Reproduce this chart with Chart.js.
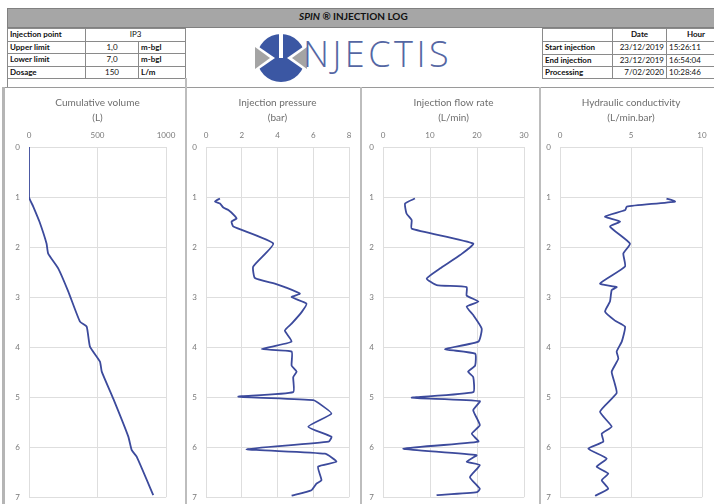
<!DOCTYPE html>
<html>
<head>
<meta charset="utf-8">
<script src="https://cdn.jsdelivr.net/npm/chart.js@4/dist/chart.umd.min.js"></script>
<style>
  html, body { margin: 0; padding: 0; background: #fff; }
  body { width: 714px; height: 504px; position: relative; overflow: hidden; font-family: Lato, "Liberation Sans", sans-serif; }
  .abs { position: absolute; box-sizing: border-box; }
  .cell { position: absolute; box-sizing: border-box; border: 1px solid #8a8a8a; font-size: 8px; line-height: 11px; padding: 0 2px; white-space: nowrap; overflow: hidden; color: #111; }
  .b { font-weight: bold; }
  .c { text-align: center; }
  .r { text-align: right; }
  .vline { position: absolute; background: #bdbdbd; width: 2px; }
  .panel { position: absolute; top: 90px; height: 421px; }
  canvas { display: block; }
</style>
</head>
<body>
<!-- header bar -->
<div class="abs" style="left:7px;top:8px;width:720px;height:20px;background:#a6a6a6;border:1px solid #808080;"></div>
<div class="abs" style="left:299px;top:10px;font-size:10px;font-weight:bold;color:#111;white-space:nowrap;"><i>SPIN</i> ® INJECTION LOG</div>

<!-- left info table -->
<div class="cell b" style="left:7px;top:28px;width:79px;height:14px;">Injection point</div>
<div class="cell c" style="left:85px;top:28px;width:101px;height:14px;">IP3</div>
<div class="cell b" style="left:7px;top:41px;width:79px;height:13px;">Upper limit</div>
<div class="cell c" style="left:85px;top:41px;width:54px;height:13px;">1,0</div>
<div class="cell b" style="left:138px;top:41px;width:48px;height:13px;">m-bgl</div>
<div class="cell b" style="left:7px;top:53px;width:79px;height:14px;">Lower limit</div>
<div class="cell c" style="left:85px;top:53px;width:54px;height:14px;">7,0</div>
<div class="cell b" style="left:138px;top:53px;width:48px;height:14px;">m-bgl</div>
<div class="cell b" style="left:7px;top:66px;width:79px;height:13px;">Dosage</div>
<div class="cell c" style="left:85px;top:66px;width:54px;height:13px;">150</div>
<div class="cell b" style="left:138px;top:66px;width:48px;height:13px;">L/m</div>
<div class="cell" style="left:7px;top:78px;width:179px;height:10px;border-top:none;"></div>

<!-- logo -->
<svg class="abs" style="left:252px;top:32px;" width="58" height="52" viewBox="0 0 58 52">
  <circle cx="29" cy="26" r="24" fill="#3b57a3"/>
  <polygon points="0,10 23,26 0,42" fill="#fff"/>
  <polygon points="3,15 18,26 3,37" fill="#a4a4a4"/>
  <polygon points="58,10 35,26 58,42" fill="#fff"/>
  <polygon points="55,15 40,26 55,37" fill="#a4a4a4"/>
  <rect x="27" y="0" width="4" height="26" fill="#fff"/>
</svg>
<div class="abs" style="left:303px;top:32px;font-family:'Open Sans','Noto Sans',sans-serif;font-weight:300;font-size:36px;line-height:44px;letter-spacing:3.5px;color:#5466a3;white-space:nowrap;">NJECTIS</div>

<!-- right info table -->
<div class="cell" style="left:542px;top:28px;width:71px;height:14px;"></div>
<div class="cell b c" style="left:612px;top:28px;width:55px;height:14px;">Date</div>
<div class="cell b c" style="left:666px;top:28px;width:60px;height:14px;">Hour</div>
<div class="cell b" style="left:542px;top:41px;width:71px;height:14px;">Start injection</div>
<div class="cell r" style="left:612px;top:41px;width:55px;height:14px;">23/12/2019</div>
<div class="cell" style="left:666px;top:41px;width:60px;height:14px;">15:26:11</div>
<div class="cell b" style="left:542px;top:54px;width:71px;height:13px;">End injection</div>
<div class="cell r" style="left:612px;top:54px;width:55px;height:13px;">23/12/2019</div>
<div class="cell" style="left:666px;top:54px;width:60px;height:13px;">16:54:04</div>
<div class="cell b" style="left:542px;top:66px;width:71px;height:13px;">Processing</div>
<div class="cell r" style="left:612px;top:66px;width:55px;height:13px;">7/02/2020</div>
<div class="cell" style="left:666px;top:66px;width:60px;height:13px;">10:28:46</div>

<!-- frame of the log panels -->
<div class="abs" style="left:2px;top:87px;width:720px;height:1px;background:#9a9a9a;"></div>
<div class="vline" style="left:2px;top:87px;height:420px;width:3px;background:#b5b5b5;"></div>
<div class="vline" style="left:185px;top:78px;height:430px;"></div>
<div class="vline" style="left:360px;top:87px;height:420px;"></div>
<div class="vline" style="left:539px;top:87px;height:420px;"></div>

<div class="panel" style="left:5px;"><canvas id="c1" width="180" height="421"></canvas></div>
<div class="panel" style="left:187px;"><canvas id="c2" width="173" height="421"></canvas></div>
<div class="panel" style="left:362px;"><canvas id="c3" width="177" height="421"></canvas></div>
<div class="panel" style="left:541px;"><canvas id="c4" width="173" height="421"></canvas></div>

<script>
// Depth (m-bgl) / measured value pairs for each log
const volumeDepth = [0, 1.0, 1.19, 1.49, 1.93, 2.13, 2.43, 2.89, 3.49, 3.59, 3.99, 4.29, 4.49, 5.03, 5.79, 6.06, 6.19, 6.96];
const volumeL     = [0, 0,   31,   76,   128,  140,  214,  287,  372,  421,  445,  518,  531,  615,  725,  750,  786,  907];

const pressureDepth = [1.03, 1.09, 1.13, 1.21, 1.26, 1.38, 1.43, 1.49, 1.59, 1.93, 2.39, 2.62, 2.73, 2.80, 2.93, 3.00, 3.13, 3.30, 3.53, 3.67, 3.89, 4.04, 4.09, 4.37, 4.49, 4.60, 4.90, 4.99, 5.06, 5.16, 5.33, 5.59, 5.79, 5.89, 6.04, 6.13, 6.29, 6.39, 6.66, 6.73, 6.86, 6.97];
const pressureBar   = [0.78, 0.50, 0.78, 0.97, 1.25, 1.62, 1.71, 1.43, 1.53, 3.76, 2.64, 2.74, 3.85, 4.41, 5.25, 4.79, 5.62, 5.35, 4.79, 4.41, 4.79, 3.11, 4.79, 4.79, 5.07, 4.88, 4.88, 1.81, 6.00, 6.46, 7.02, 5.72, 7.02, 6.86, 2.27, 6.65, 7.30, 6.27, 6.46, 6.18, 5.90, 4.79];

const flowDepth = [1.03, 1.13, 1.33, 1.46, 1.63, 1.93, 2.16, 2.43, 2.63, 2.76, 2.80, 2.97, 3.09, 3.19, 3.36, 3.63, 3.89, 4.04, 4.13, 4.37, 4.49, 4.60, 4.90, 5.01, 5.08, 5.26, 5.56, 5.73, 5.89, 6.03, 6.16, 6.29, 6.36, 6.60, 6.83, 6.90, 6.96];
const flowLmin  = [6.8,  4.7,  5.0,  6.1,  6.1,  19.2, 16.4, 12.1, 9.3,  11.4, 17.8, 17.8, 20.3, 17.8, 19.2, 21.0, 20.3, 13.2, 19.6, 19.6, 18.1, 19.2, 19.2, 6.1,  20.6, 19.2, 20.6, 18.9, 20.3, 4.3,  19.9, 17.8, 20.6, 18.5, 20.6, 20.0, 11.4];

const conductivityDepth = [1.03, 1.09, 1.19, 1.26, 1.39, 1.49, 1.59, 1.93, 2.13, 2.39, 2.73, 2.80, 2.86, 3.09, 3.29, 3.47, 3.59, 3.89, 4.09, 4.23, 4.49, 4.69, 4.92, 5.29, 5.59, 5.73, 5.89, 6.03, 6.23, 6.39, 6.53, 6.66, 6.83, 6.97];
const conductivityK     = [7.5,  8.1,  4.7,  4.6,  3.17, 4.23, 3.52, 4.93, 4.46, 4.58, 2.82, 3.99, 3.64, 3.52, 3.17, 3.87, 4.58, 4.35, 3.99, 4.11, 3.64, 3.82, 3.99, 2.82, 3.64, 2.94, 3.05, 1.99, 3.29, 2.58, 3.40, 2.94, 3.40, 2.47];

// Log panel definitions: titles and x-axis ranges / tick steps
const logs = [
  { id: 'c1', title: ['Cumulative volume', '(L)'],          depth: volumeDepth,       values: volumeL,       max: 1000, step: 500, yWidth: 24, right: 19 },
  { id: 'c2', title: ['Injection pressure', '(bar)'],       depth: pressureDepth,     values: pressureBar,   max: 8,    step: 2,   yWidth: 19, right: 11 },
  { id: 'c3', title: ['Injection flow rate', '(L/min)'],    depth: flowDepth,         values: flowLmin,      max: 30,   step: 10,  yWidth: 21, right: 15 },
  { id: 'c4', title: ['Hydraulic conductivity', '(L/min.bar)'], depth: conductivityDepth, values: conductivityK, max: 10, step: 5,  yWidth: 19, right: 12 }
];

const FONT = 'Lato, "Liberation Sans", sans-serif';
const GRID = '#dedede';
const TICK = '#7a7a7a';
const plain = v => String(v);

// Two-line heading centred over the plot area rather than the whole canvas
const plotTitle = {
  id: 'plotTitle',
  afterDraw(chart, args, opts) {
    const { ctx, chartArea } = chart;
    const cx = (chartArea.left + chartArea.right) / 2;
    ctx.save();
    ctx.fillStyle = '#6e6e6e';
    ctx.font = '10px ' + FONT;
    ctx.textAlign = 'center';
    ctx.textBaseline = 'middle';
    opts.lines.forEach((line, i) => ctx.fillText(line, cx, 13 + i * 15));
    ctx.restore();
  }
};

logs.forEach(log => {
  const points = log.depth.map((d, i) => ({ x: log.values[i], y: d }));
  new Chart(document.getElementById(log.id), {
    type: 'scatter',
    data: {
      datasets: [{
        data: points,
        showLine: true,
        borderColor: '#3c4a9c',
        borderWidth: 1.8,
        pointRadius: 0,
        tension: 0.15,
        fill: false
      }]
    },
    plugins: [plotTitle],
    options: {
      responsive: false,
      animation: false,
      events: [],
      layout: { padding: { top: 37, left: 0, right: log.right, bottom: 0 } },
      plugins: {
        legend: { display: false },
        tooltip: { enabled: false },
        title: { display: false },
        plotTitle: { lines: log.title }
      },
      scales: {
        x: {
          type: 'linear',
          position: 'top',
          min: 0,
          max: log.max,
          ticks: { stepSize: log.step, color: TICK, font: { family: FONT, size: 8 }, padding: 7, callback: plain },
          grid: { color: GRID, drawTicks: false },
          border: { display: true, color: GRID },
          afterFit(s) { s.height = 20; }
        },
        y: {
          type: 'linear',
          reverse: true,
          min: 0,
          max: 7,
          ticks: { stepSize: 1, color: TICK, font: { family: FONT, size: 8 }, padding: 9, callback: plain },
          grid: { color: GRID, drawTicks: false },
          border: { display: true, color: GRID },
          afterFit(s) { s.width = log.yWidth; }
        }
      }
    }
  });
});
</script>
</body>
</html>
